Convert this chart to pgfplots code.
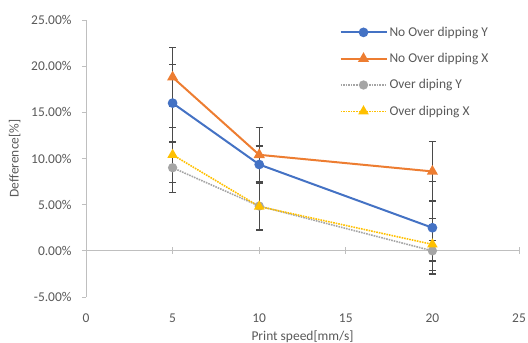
\documentclass[border=0pt]{standalone}
\usepackage{pgfplots}
\pgfplotsset{compat=1.18}
\usepackage{fontspec}
\setmainfont{Carlito}
\definecolor{cblue}{HTML}{4472C4}
\definecolor{corange}{HTML}{ED7D31}
\definecolor{cgray}{HTML}{A5A5A5}
\definecolor{cyellow}{HTML}{FFC000}
\definecolor{axgray}{HTML}{BFBFBF}
\definecolor{txtgray}{HTML}{595959}
\definecolor{errgray}{HTML}{4A4A4A}
\newcommand{\chfont}{\fontsize{13.5}{16}\selectfont}
\begin{document}
\begin{tikzpicture}
\begin{axis}[name=ax, scale only axis, width=433bp, height=277bp,
  xmin=0, xmax=25, ymin=-5, ymax=25,
  axis y line=left, axis x line=bottom,
  x axis line style={draw=none},
  y axis line style={-, draw=axgray, line width=0.8bp},
  xtick={0,5,...,25}, ytick={-5,0,...,25},
  x tick style={draw=none},
  y tick style={draw=axgray, line width=0.8bp},
  tick align=outside, major tick length=4bp,
  yticklabel={\pgfmathprintnumber[fixed,fixed zerofill,precision=2,assume math mode=true]{\tick}\%},
  xticklabel={\pgfmathprintnumber[assume math mode=true]{\tick}},
  ticklabel style={font=\chfont, text=txtgray},
  xticklabel style={yshift=-9bp},
  yticklabel style={xshift=-7bp},
  label style={font=\chfont, text=txtgray},
  xlabel={Print speed[mm/s]}, ylabel={Defference[\%]},
  xlabel style={yshift=-2bp},
  ylabel style={yshift=4bp},
  legend style={at={(0.585,0.99)}, anchor=north west, draw=none, fill=none,
    font=\chfont, text=txtgray, row sep=11.5bp, inner xsep=0pt},
  legend cell align=left,
  legend image code/.code={\draw[mark repeat=2,mark phase=2] plot coordinates {(0bp,0bp)(23bp,0bp)(46bp,0bp)};},
  error bars/error bar style={errgray, line width=1.2bp, solid},
  error bars/error mark options={rotate=90, errgray, mark size=3.5bp, line width=1.2bp, solid},
]
\addplot[forget plot, axgray, line width=0.8bp] coordinates {(0,0) (25,0)};
\addplot[forget plot, axgray, line width=0.8bp, only marks, mark=|, mark size=3.5bp] coordinates {(5,0) (10,0) (15,0) (20,0) (25,0)};

\addplot[cblue, line width=2bp, mark=*, mark size=3.8bp, mark options={solid, fill=cblue},
  error bars/.cd, y dir=both, y explicit] table[x=x, y=y, y error=e] {
x y e
5 16.0 4.2
10 9.35 2.0
20 2.5 5.0
};
\addlegendentry{No Over dipping Y}
\addplot[corange, line width=2bp, mark=triangle*, mark size=4.5bp, mark options={solid, fill=corange},
  error bars/.cd, y dir=both, y explicit] table[x=x, y=y, y error=e] {
x y e
5 18.8 3.2
10 10.4 3.0
20 8.6 3.2
};
\addlegendentry{No Over dipping X}
\addplot[cgray, line width=1.6bp, densely dotted, mark=*, mark size=3.8bp, mark options={solid, fill=cgray},
  error bars/.cd, y dir=both, y explicit] table[x=x, y=y, y error=e] {
x y e
5 9.0 2.7
10 4.85 2.6
20 0.0 1.1
};
\addlegendentry{Over diping Y}
\addplot[cyellow, line width=1.6bp, densely dotted, mark=triangle*, mark size=4.5bp, mark options={solid, fill=cyellow},
  error bars/.cd, y dir=both, y explicit] table[x=x, y=y, y error=e] {
x y e
5 10.4 3.0
10 4.8 2.6
20 0.7 2.8
};
\addlegendentry{Over dipping X}
\end{axis}
\pgfresetboundingbox
\path ([xshift=-86bp,yshift=-46bp]ax.south west) rectangle ([xshift=9bp,yshift=20bp]ax.north east);
\end{tikzpicture}
\end{document}
